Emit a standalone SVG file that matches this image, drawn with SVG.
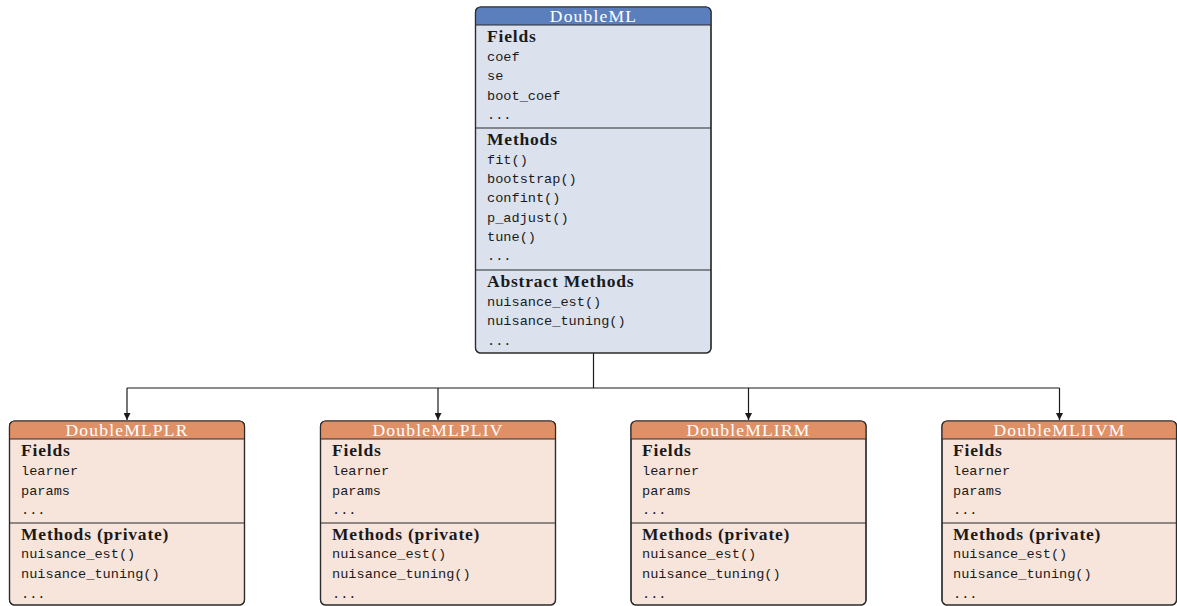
<svg xmlns="http://www.w3.org/2000/svg" width="1177" height="606" viewBox="0 0 1177 606">
<defs>
<style>
.bodyB{fill:#dbe2ee;stroke:#2b2b2b;stroke-width:1.2}
.headB{fill:#5b7fbc}
.bodyO{fill:#f7e4db;stroke:#2b2b2b;stroke-width:1.2}
.headO{fill:#e09066}
.div{stroke:#2b2b2b;stroke-width:1.2}
.title{font-family:"Liberation Serif",serif;font-size:17.5px;letter-spacing:1.2px;fill:#ffffff;text-anchor:middle}
.sec{font-family:"Liberation Serif",serif;font-size:17.5px;letter-spacing:0.8px;font-weight:bold;fill:#1a1a1a}
.mono{font-family:"Liberation Mono",monospace;font-size:13.6px;fill:#1a1a1a}
.conn{fill:none;stroke:#1a1a1a;stroke-width:1.2}
</style>
<marker id="arr" viewBox="0 0 8 8" refX="8" refY="4" markerWidth="7" markerHeight="7" orient="auto" markerUnits="userSpaceOnUse">
<path d="M0,0 L8,4 L0,8 z" fill="#1a1a1a"/>
</marker>
</defs>

<g id="connectors">
<path class="conn" d="M593.5,353 V388"/>
<path class="conn" d="M127,388 H1059.5"/>
<path class="conn" d="M127,388 V420" marker-end="url(#arr)"/>
<path class="conn" d="M438,388 V420" marker-end="url(#arr)"/>
<path class="conn" d="M748.5,388 V420" marker-end="url(#arr)"/>
<path class="conn" d="M1059.5,388 V420" marker-end="url(#arr)"/>
</g>

<g id="DoubleML">
<rect class="bodyB" x="475.5" y="7" width="235.5" height="346" rx="5"/>
<path class="headB" d="M480.5,7 H706 A5,5 0 0 1 711,12 V25 H475.5 V12 A5,5 0 0 1 480.5,7 Z"/>
<rect x="475.5" y="7" width="235.5" height="346" rx="5" fill="none" stroke="#2b2b2b" stroke-width="1.2"/>
<line class="div" x1="475.5" y1="25" x2="711" y2="25"/>
<text class="title" x="593.5" y="21.5">DoubleML</text>
<text class="sec" x="487" y="42">Fields</text>
<text class="mono" x="487" y="61">coef</text>
<text class="mono" x="487" y="80">se</text>
<text class="mono" x="487" y="100">boot_coef</text>
<text class="mono" x="487" y="119">...</text>
<line class="div" x1="475.5" y1="128" x2="711" y2="128"/>
<text class="sec" x="487" y="145">Methods</text>
<text class="mono" x="487" y="164">fit()</text>
<text class="mono" x="487" y="183">bootstrap()</text>
<text class="mono" x="487" y="202">confint()</text>
<text class="mono" x="487" y="222">p_adjust()</text>
<text class="mono" x="487" y="241">tune()</text>
<text class="mono" x="487" y="260">...</text>
<line class="div" x1="475.5" y1="270" x2="711" y2="270"/>
<text class="sec" x="487" y="287">Abstract Methods</text>
<text class="mono" x="487" y="306">nuisance_est()</text>
<text class="mono" x="487" y="325">nuisance_tuning()</text>
<text class="mono" x="487" y="345">...</text>
</g>

<g id="DoubleMLPLR">
<rect class="bodyO" x="9.5" y="421" width="235" height="184" rx="5"/>
<path class="headO" d="M14.5,421 H239.5 A5,5 0 0 1 244.5,426 V439 H9.5 V426 A5,5 0 0 1 14.5,421 Z"/>
<rect x="9.5" y="421" width="235" height="184" rx="5" fill="none" stroke="#2b2b2b" stroke-width="1.2"/>
<line class="div" x1="9.5" y1="439" x2="244.5" y2="439"/>
<text class="title" x="127" y="435.5">DoubleMLPLR</text>
<text class="sec" x="21" y="456">Fields</text>
<text class="mono" x="21" y="475">learner</text>
<text class="mono" x="21" y="495">params</text>
<text class="mono" x="21" y="514">...</text>
<line class="div" x1="9.5" y1="523" x2="244.5" y2="523"/>
<text class="sec" x="21" y="540">Methods (private)</text>
<text class="mono" x="21" y="558">nuisance_est()</text>
<text class="mono" x="21" y="578">nuisance_tuning()</text>
<text class="mono" x="21" y="598">...</text>
</g>

<g id="DoubleMLPLIV">
<rect class="bodyO" x="320.5" y="421" width="235" height="184" rx="5"/>
<path class="headO" d="M325.5,421 H550.5 A5,5 0 0 1 555.5,426 V439 H320.5 V426 A5,5 0 0 1 325.5,421 Z"/>
<rect x="320.5" y="421" width="235" height="184" rx="5" fill="none" stroke="#2b2b2b" stroke-width="1.2"/>
<line class="div" x1="320.5" y1="439" x2="555.5" y2="439"/>
<text class="title" x="438" y="435.5">DoubleMLPLIV</text>
<text class="sec" x="332" y="456">Fields</text>
<text class="mono" x="332" y="475">learner</text>
<text class="mono" x="332" y="495">params</text>
<text class="mono" x="332" y="514">...</text>
<line class="div" x1="320.5" y1="523" x2="555.5" y2="523"/>
<text class="sec" x="332" y="540">Methods (private)</text>
<text class="mono" x="332" y="558">nuisance_est()</text>
<text class="mono" x="332" y="578">nuisance_tuning()</text>
<text class="mono" x="332" y="598">...</text>
</g>

<g id="DoubleMLIRM">
<rect class="bodyO" x="631" y="421" width="235" height="184" rx="5"/>
<path class="headO" d="M636,421 H861 A5,5 0 0 1 866,426 V439 H631 V426 A5,5 0 0 1 636,421 Z"/>
<rect x="631" y="421" width="235" height="184" rx="5" fill="none" stroke="#2b2b2b" stroke-width="1.2"/>
<line class="div" x1="631" y1="439" x2="866" y2="439"/>
<text class="title" x="748.5" y="435.5">DoubleMLIRM</text>
<text class="sec" x="642" y="456">Fields</text>
<text class="mono" x="642" y="475">learner</text>
<text class="mono" x="642" y="495">params</text>
<text class="mono" x="642" y="514">...</text>
<line class="div" x1="631" y1="523" x2="866" y2="523"/>
<text class="sec" x="642" y="540">Methods (private)</text>
<text class="mono" x="642" y="558">nuisance_est()</text>
<text class="mono" x="642" y="578">nuisance_tuning()</text>
<text class="mono" x="642" y="598">...</text>
</g>

<g id="DoubleMLIIVM">
<rect class="bodyO" x="942" y="421" width="234.5" height="184" rx="5"/>
<path class="headO" d="M947,421 H1171.5 A5,5 0 0 1 1176.5,426 V439 H942 V426 A5,5 0 0 1 947,421 Z"/>
<rect x="942" y="421" width="234.5" height="184" rx="5" fill="none" stroke="#2b2b2b" stroke-width="1.2"/>
<line class="div" x1="942" y1="439" x2="1176.5" y2="439"/>
<text class="title" x="1059.5" y="435.5">DoubleMLIIVM</text>
<text class="sec" x="953" y="456">Fields</text>
<text class="mono" x="953" y="475">learner</text>
<text class="mono" x="953" y="495">params</text>
<text class="mono" x="953" y="514">...</text>
<line class="div" x1="942" y1="523" x2="1176.5" y2="523"/>
<text class="sec" x="953" y="540">Methods (private)</text>
<text class="mono" x="953" y="558">nuisance_est()</text>
<text class="mono" x="953" y="578">nuisance_tuning()</text>
<text class="mono" x="953" y="598">...</text>
</g>
</svg>
